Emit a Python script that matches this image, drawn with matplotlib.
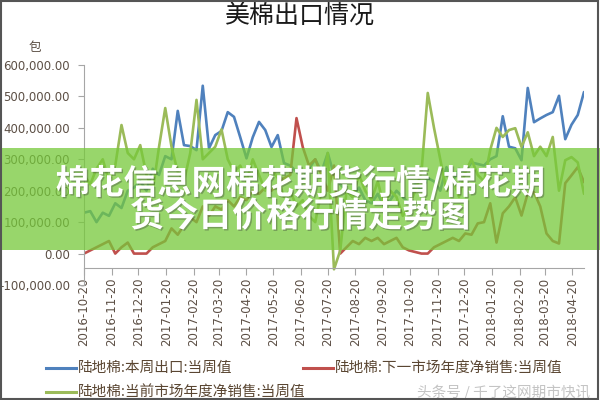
import matplotlib
matplotlib.use('Agg')
import matplotlib.pyplot as plt
import matplotlib.patheffects as pe
from matplotlib.patches import Rectangle
from matplotlib.lines import Line2D
import pandas as pd
import numpy as np

plt.rcParams['font.family'] = ['Noto Sans CJK SC', 'DejaVu Sans']

# ---------------- data ----------------
start_date = '2016-10-20'
n_weeks = 81

# 陆地棉:本周出口:当周值 (thousand bales)
exports_k = [130, 135, 100, 130, 120, 160, 145, 200, 210, 230,
             200, 270, 250, 310, 300, 454, 345, 342, 329, 534,
             335, 377, 390, 450, 435, 370, 303, 370, 419, 393,
             339, 377, 288, 280, 260, 240, 270, 300, 260, 320,
             250, 220, 200, 180, 210, 170, 160, 190, 150, 170,
             200, 180, 160, 220, 200, 240, 230, 200, 275, 230,
             270, 260, 290, 285, 280, 300, 310, 437, 340, 335,
             297, 527, 418, 430, 441, 450, 502, 364, 410, 441, 514]

# 陆地棉:下一市场年度净销售:当周值
next_my_k = [0, 10, 20, 30, 40, 0, 20, 35, 0, 0,
             0, 20, 30, 40, 80, 60, 90, 115, 100, 150,
             120, 150, 140, 170, 150, 180, 170, 200, 190, 210,
             200, 220, 240, 250, 431, 339, 280, 300, 250, 200,
             280, 0, 20, 40, 30, 50, 40, 50, 30, 40,
             50, 20, 10, 5, 0, 0, 20, 30, 40, 50,
             40, 64, 60, 96, 100, 160, 35, 128, 150, 179,
             121, 192, 195, 150, 64, 40, 32, 224, 249, 275, 227]

# 陆地棉:当前市场年度净销售:当周值
current_my_k = [250, 220, 270, 300, 230, 280, 409, 320, 300, 345,
                250, 200, 339, 463, 340, 260, 230, 320, 489, 300,
                320, 340, 395, 300, 260, 280, 230, 300, 250, 200,
                270, 240, 180, 200, 150, 170, 120, 100, 200, 320,
                -50, 10, 200, 180, 250, 200, 170, 230, 150, 200,
                180, 120, 150, 200, 260, 511, 400, 300, 200, 240,
                180, 260, 300, 250, 230, 330, 400, 371, 393, 399,
                339, 386, 310, 340, 310, 371, 200, 297, 307, 290, 190]

series_names = ['陆地棉:本周出口:当周值',
                '陆地棉:下一市场年度净销售:当周值',
                '陆地棉:当前市场年度净销售:当周值']

tick_labels = ['2016-10-20', '2016-11-20', '2016-12-20', '2017-01-20',
               '2017-02-20', '2017-03-20', '2017-04-20', '2017-05-20',
               '2017-06-20', '2017-07-20', '2017-08-20', '2017-09-20',
               '2017-10-20', '2017-11-20', '2017-12-20', '2018-01-20',
               '2018-02-20', '2018-03-20', '2018-04-20']

y_ticks = [-100000, 0, 100000, 200000, 300000, 400000, 500000, 600000]

title = '美棉出口情况'
unit = '包'
banner_line1 = '棉花信息网棉花期货行情/棉花期'
banner_line2 = '货今日价格行情走势图'
watermark = '头条号 / 千了这网期市快讯'

# ---------------- styles ----------------
colors = ['#4F81BD', '#C0504D', '#9BBB59']
text_brown = '#5c4f45'
axis_gray = '#a6a6a6'

dates = pd.date_range(start_date, periods=n_weeks, freq='7D')
tick_dates = pd.to_datetime(tick_labels)

fig = plt.figure(figsize=(6, 4), dpi=100)
W, H = 600.0, 400.0
ax = fig.add_axes([84 / W, 1 - 285 / H, (584 - 84) / W, 220 / H])

all_series = [exports_k, next_my_k, current_my_k]
for vals, c in zip(all_series, colors):
    ax.plot(dates, np.array(vals) * 1000, color=c, lw=1.9,
            solid_joinstyle='round', solid_capstyle='round')

for s in ['top', 'right']:
    ax.spines[s].set_visible(False)
ax.spines['left'].set_color(axis_gray)
ax.spines['bottom'].set_color(axis_gray)
ax.spines['bottom'].set_position(('data', -45000))

ax.set_xlim(dates[0], dates[-1])
ax.set_ylim(-100000, 600000)
ax.set_yticks(y_ticks)
ax.set_yticklabels([f'{v:,.2f}' for v in y_ticks], family='DejaVu Sans')
ax.set_xticks(tick_dates)
ax.set_xticklabels(tick_labels, family='DejaVu Sans')
ax.tick_params(axis='y', length=4, color=axis_gray, labelsize=8.5,
               labelcolor=text_brown, pad=6)
ax.tick_params(axis='x', length=5, color=axis_gray, labelsize=8.5,
               labelcolor=text_brown, pad=2, labelrotation=90)
ax.patch.set_alpha(0)

# title and unit
fig.text(0.5, 1 - 16 / H, title, ha='center', va='center', fontsize=18,
         color='#1a1a1a')
fig.text(35 / W, 1 - 47 / H, unit, ha='center', va='center', fontsize=9,
         color=text_brown)

# legend (manual)
leg_pos = [(46, 368), (303, 368), (46, 392)]
for (lx, ly), c, name in zip(leg_pos, colors, series_names):
    fig.add_artist(Line2D([lx / W, (lx + 30) / W], [1 - ly / H, 1 - ly / H],
                          color=c, lw=2.2, transform=fig.transFigure))
    fig.text((lx + 32) / W, 1 - ly / H, name, ha='left', va='center',
             fontsize=10.5, color='#5a4632')

fig.text(590 / W, 1 - 392 / H, watermark, ha='right', va='center',
         fontsize=10.5, color='#c4c4c4')

# green banner overlay
fig.add_artist(Rectangle((0, 1 - 250 / H), 1, 102 / H,
                         transform=fig.transFigure, facecolor='#76C93A',
                         alpha=0.75, edgecolor='none', zorder=10))
shadow = [pe.withSimplePatchShadow(offset=(1, -1), shadow_rgbFace='#333333',
                                   alpha=0.35)]
fig.text(0.5, 1 - 183 / H, banner_line1, ha='center', va='center',
         fontsize=24.5, fontweight='heavy', color='white', zorder=11,
         path_effects=shadow)
fig.text(0.5, 1 - 216 / H, banner_line2, ha='center', va='center',
         fontsize=24.5, fontweight='heavy', color='white', zorder=11,
         path_effects=shadow)

# outer border
fig.add_artist(Rectangle((0.002, 0.003), 0.995, 0.994, transform=fig.transFigure,
                         fill=False, edgecolor='#555555', lw=1.5, zorder=12))

fig.savefig('out.png', dpi=100)
